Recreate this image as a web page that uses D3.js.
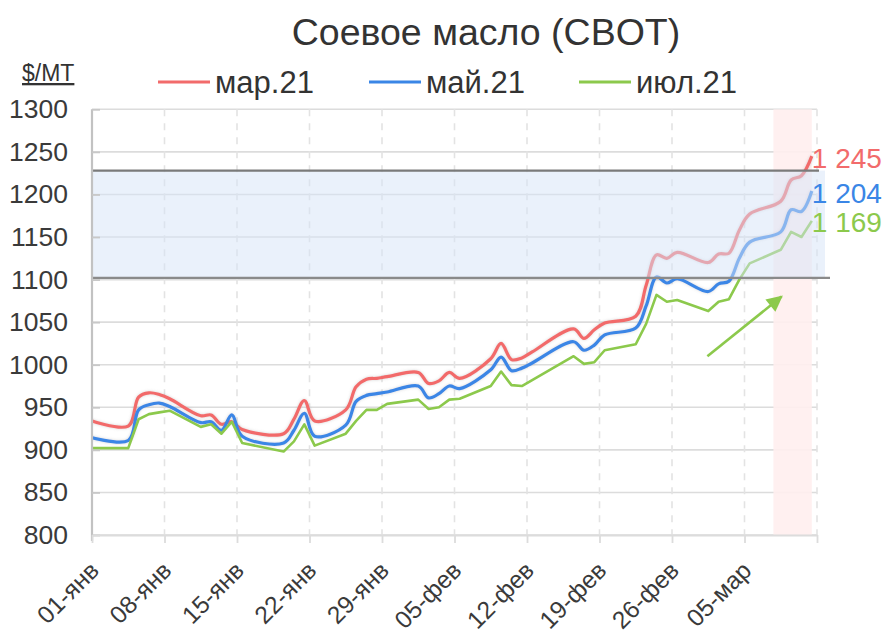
<!DOCTYPE html>
<html><head><meta charset="utf-8">
<script src="https://cdn.jsdelivr.net/npm/d3@7"></script>
<style>body{margin:0;background:#fff;} svg{display:block;font-family:"Liberation Sans",Arial,sans-serif;}</style>
</head><body><svg id="c" width="886" height="634"></svg>
<script>
// ---- data ----
const dates = ["2020-12-31",
 "2021-01-04","2021-01-05","2021-01-06","2021-01-07","2021-01-08",
 "2021-01-11","2021-01-12","2021-01-13","2021-01-14","2021-01-15",
 "2021-01-19","2021-01-20","2021-01-21","2021-01-22",
 "2021-01-25","2021-01-26","2021-01-27","2021-01-28","2021-01-29",
 "2021-02-01","2021-02-02","2021-02-03","2021-02-04","2021-02-05",
 "2021-02-08","2021-02-09","2021-02-10","2021-02-11","2021-02-12",
 "2021-02-16","2021-02-17","2021-02-18","2021-02-19",
 "2021-02-22","2021-02-23","2021-02-24","2021-02-25","2021-02-26",
 "2021-03-01","2021-03-02","2021-03-03","2021-03-04","2021-03-05",
 "2021-03-08","2021-03-09","2021-03-10","2021-03-11"];
const mar21 = [936,
 928,962,967,965,960,
 940,941,930,933,924,
 919,936,958,934,
 947,974,983,984,986,
 991,978,981,991,984,
 1007,1025,1006,1008,1015,
 1042,1031,1041,1049,
 1057,1093,1129,1125,1132,
 1120,1130,1131,1158,1177,
 1192,1217,1222,1245];
const may21 = [916,
 911,947,953,955,951,
 932,933,923,941,916,
 908,923,943,916,
 929,957,964,966,968,
 975,961,966,975,972,
 994,1009,993,996,1002,
 1027,1017,1023,1035,
 1043,1069,1103,1096,1101,
 1086,1095,1098,1125,1144,
 1156,1182,1180,1204];
const jul21 = [902,
 902,936,942,944,946,
 927,930,919,933,908,
 898,910,930,905,
 919,934,947,947,954,
 959,948,950,959,960,
 975,992,976,975,982,
 1010,1001,1003,1017,
 1024,1048,1082,1074,1076,
 1063,1074,1077,1100,1119,
 1135,1156,1150,1169];
const seriesNames = ["мар.21","май.21","июл.21"];
const seriesColors = ["#f26b6b","#3a86e6","#8cc94c"];
const yTicks = [800,850,900,950,1000,1050,1100,1150,1200,1250,1300];
const xTickLabels = ["01-янв","08-янв","15-янв","22-янв","29-янв","05-фев","12-фев","19-фев","26-фев","05-мар"];
const chartTitle = "Соевое масло (CBOT)";
const unitLabel = "$/MT";
const corridor = [1102, 1228];
const highlight = ["2021-03-07T19:00:00Z","2021-03-11T12:00:00Z"];
const arrowFrom = ["2021-03-01T10:00:00Z", 1010];
const arrowTo = ["2021-03-08T14:00:00Z", 1080];

// ---- layout ----
const L = 92, R = 817, T = 109.3, B = 535;
const svg = d3.select("#c");
const parseDay = s => new Date(s + "T12:00:00Z");
const start = new Date("2021-01-01T00:00:00Z");
const x = d3.scaleUtc().domain([start, new Date("2021-03-12T00:00:00Z")]).range([L, R]);
const y = d3.scaleLinear().domain([800, 1300]).range([B, T]);
const xTicks = d3.range(11).map(k => d3.utcDay.offset(start, 7 * k));
const fmt = d3.formatLocale({thousands: "\u00a0", grouping: [3], decimal: ",", currency: ["", ""]}).format(",d");

const defs = svg.append("defs");
defs.append("clipPath").attr("id", "plot").append("rect")
  .attr("x", L).attr("y", T - 20).attr("width", R - L + 10).attr("height", B - T + 20);
const f = defs.append("filter").attr("id", "glow").attr("filterUnits", "userSpaceOnUse")
  .attr("x", 0).attr("y", 0).attr("width", 886).attr("height", 634);
f.append("feGaussianBlur").attr("in", "SourceAlpha").attr("stdDeviation", 1.6).attr("result", "b");
f.append("feFlood").attr("flood-color", "#888").attr("flood-opacity", 0.35).attr("result", "c");
f.append("feComposite").attr("in", "c").attr("in2", "b").attr("operator", "in").attr("result", "s");
const fm = f.append("feMerge");
fm.append("feMergeNode").attr("in", "s");
fm.append("feMergeNode").attr("in", "SourceGraphic");
defs.append("marker").attr("id", "arr").attr("viewBox", "0 0 10 10")
  .attr("refX", 9).attr("refY", 5).attr("markerUnits", "userSpaceOnUse")
  .attr("markerWidth", 18).attr("markerHeight", 16).attr("orient", "auto")
  .append("path").attr("d", "M0,0 L10,5 L0,10 z").attr("fill", seriesColors[2]);

// gridlines
svg.append("g").selectAll("line").data(yTicks).join("line")
  .attr("x1", L).attr("x2", R).attr("y1", d => y(d)).attr("y2", d => y(d))
  .attr("stroke", "#dcdcdc").attr("stroke-width", 1.6);
svg.append("g").selectAll("line").data(xTicks.slice(1)).join("line")
  .attr("x1", d => x(d)).attr("x2", d => x(d)).attr("y1", T).attr("y2", B)
  .attr("stroke", "#e3e3e3").attr("stroke-width", 1.6).attr("stroke-dasharray", "7,7");

// highlight band (behind lines)
svg.append("rect")
  .attr("x", x(new Date(highlight[0]))).attr("y", T)
  .attr("width", x(new Date(highlight[1])) - x(new Date(highlight[0])))
  .attr("height", B - T).attr("fill", "#ffeeee").attr("opacity", 0.9);

// lines
const pts = arr => arr.map((v, i) => [parseDay(dates[i]), v]);
const gL = svg.append("g").attr("clip-path", "url(#plot)");
const smooth = d3.line().x(d => x(d[0])).y(d => y(d[1])).curve(d3.curveCatmullRom.alpha(0.5));
const straight = d3.line().x(d => x(d[0])).y(d => y(d[1]));
gL.append("path").attr("d", smooth(pts(mar21))).attr("fill", "none")
  .attr("stroke", seriesColors[0]).attr("stroke-width", 3.2).attr("filter", "url(#glow)");
gL.append("path").attr("d", smooth(pts(may21))).attr("fill", "none")
  .attr("stroke", seriesColors[1]).attr("stroke-width", 3.2).attr("filter", "url(#glow)");
gL.append("path").attr("d", straight(pts(jul21))).attr("fill", "none")
  .attr("stroke", seriesColors[2]).attr("stroke-width", 2.6).attr("stroke-linejoin", "round");

// corridor band (over lines)
svg.append("rect").attr("x", L + 1).attr("y", y(corridor[1]))
  .attr("width", R + 8 - L - 1).attr("height", y(corridor[0]) - y(corridor[1]))
  .attr("fill", "#d6e3f8").attr("opacity", 0.5);
svg.append("line").attr("x1", L).attr("x2", R + 2).attr("y1", y(corridor[1])).attr("y2", y(corridor[1]))
  .attr("stroke", "#7a7a7a").attr("stroke-width", 2.4);
svg.append("line").attr("x1", L).attr("x2", R + 13).attr("y1", y(corridor[0])).attr("y2", y(corridor[0]))
  .attr("stroke", "#8a8a8a").attr("stroke-width", 2.4);

// axes
const ya = svg.append("g").attr("transform", `translate(${L},0)`)
  .call(d3.axisLeft(y).tickValues(yTicks).tickSizeInner(-8).tickSizeOuter(0).tickPadding(24).tickFormat(d3.format("d")));
ya.select(".domain").attr("stroke", "#c2c2c2").attr("stroke-width", 2.2).attr("d", `M0,${T}V${B + 6}`);
ya.selectAll(".tick line").attr("stroke", "#c8c8c8").attr("stroke-width", 1.8);
ya.selectAll("text").attr("font-size", 26.5).attr("fill", "#3a3a3a").attr("font-family", "Liberation Sans, Arial, sans-serif");

const xa = svg.append("g").attr("transform", `translate(0,${B})`)
  .call(d3.axisBottom(x).tickValues(xTicks).tickSizeInner(8).tickSizeOuter(0).tickFormat((d, i) => xTickLabels[i] || ""));
xa.select(".domain").attr("stroke", "#dcdcdc").attr("stroke-width", 2);
xa.selectAll(".tick line").attr("stroke", "#dcdcdc").attr("stroke-width", 1.8);
xa.selectAll("text").attr("x", 0).attr("y", 0).attr("dy", 0)
  .attr("transform", "translate(8,37) rotate(-45)").style("text-anchor", "end")
  .attr("font-size", 24.5).attr("fill", "#3a3a3a").attr("font-family", "Liberation Sans, Arial, sans-serif");

// arrow
svg.append("line")
  .attr("x1", x(new Date(arrowFrom[0]))).attr("y1", y(arrowFrom[1]))
  .attr("x2", x(new Date(arrowTo[0]))).attr("y2", y(arrowTo[1]))
  .attr("stroke", seriesColors[2]).attr("stroke-width", 2.6).attr("marker-end", "url(#arr)");

// end labels
[mar21, may21, jul21].forEach((s, i) => {
  const last = s.length - 1;
  svg.append("text").attr("x", x(parseDay(dates[last])) + 0).attr("y", y(s[last]) + 2)
    .attr("dominant-baseline", "central").attr("font-size", 28).attr("fill", seriesColors[i])
    .text(fmt(s[last]));
});

// title, unit, legend
svg.append("text").attr("x", 486).attr("y", 45).attr("text-anchor", "middle")
  .attr("font-size", 37.5).attr("fill", "#333").text(chartTitle);
svg.append("text").attr("x", 22).attr("y", 81).attr("font-size", 23).attr("fill", "#333")
  .attr("text-decoration", "underline").text(unitLabel);
const legX = [158, 369, 579];
seriesNames.forEach((n, i) => {
  svg.append("line").attr("x1", legX[i]).attr("x2", legX[i] + 52).attr("y1", 82).attr("y2", 82)
    .attr("stroke", seriesColors[i]).attr("stroke-width", 3);
  svg.append("text").attr("x", legX[i] + 57).attr("y", 82).attr("dominant-baseline", "central")
    .attr("font-size", 31).attr("fill", "#333").text(n);
});
</script></body></html>
